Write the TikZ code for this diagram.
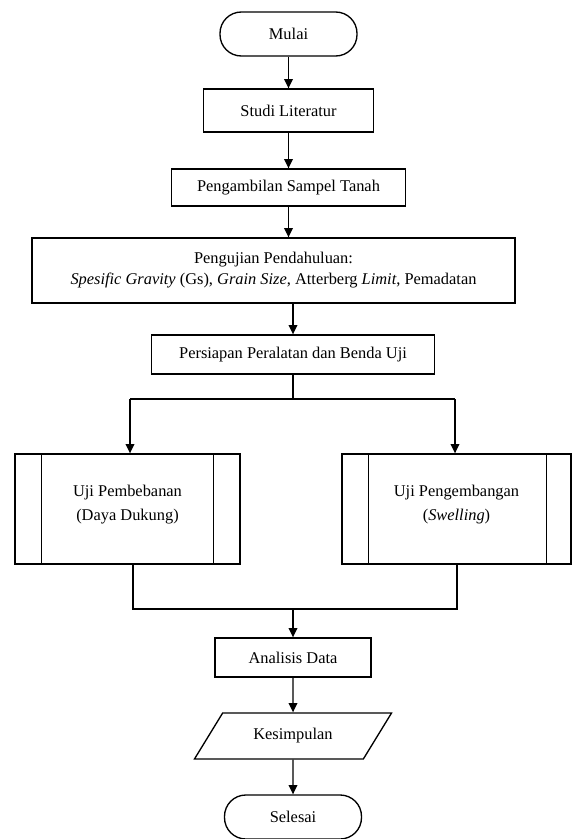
\documentclass[tikz,border=0pt]{standalone}
\usepackage{fontspec}
\setmainfont{Liberation Serif}
\usepackage{tikz}
\usetikzlibrary{shapes.geometric}
\usetikzlibrary{arrows.meta}

\begin{document}
\begin{tikzpicture}[x=0.75pt,y=-0.75pt,line width=1pt,
    font=\fontsize{12.3}{15.8}\selectfont,
    box/.style={draw,align=center,inner sep=2pt},
    term/.style={box,rounded corners=16pt,minimum width=102.75pt,minimum height=33pt},
    proc/.style={box,minimum height=82.5pt,font=\fontsize{12.3}{18}\selectfont},
    data/.style={box,trapezium,trapezium left angle=50,trapezium right angle=130,
      trapezium stretches=true,minimum width=148.5pt,minimum height=34.5pt},
    arr/.style={-{Triangle[length=7pt,width=6.5pt]}}]
  \useasboundingbox (0,0) rectangle (572,839);

  \node[term] (mulai) at (288.5,34) {Mulai};
  \node[box,minimum width=127.5pt,minimum height=32.25pt] (studi) at (288.5,110.5) {Studi Literatur};
  \node[box,minimum width=175.5pt,minimum height=27.75pt] (sampel) at (288.5,187.5) {Pengambilan Sampel Tanah};
  \node[box,minimum width=362.25pt,minimum height=48.75pt] (pendahuluan) at (273.5,270.5)
    {Pengujian Pendahuluan:\\\textit{Spesific Gravity} (Gs), \textit{Grain Size}, Atterberg \textit{Limit}, Pemadatan};
  \node[box,minimum width=212.25pt,minimum height=29.25pt] (persiapan) at (293,354.5) {Persiapan Peralatan dan Benda Uji};
  \node[proc,minimum width=168.75pt] (pembebanan) at (127.5,509) {Uji Pembebanan\\(Daya Dukung)\\[-8pt]};
  \node[proc,minimum width=171.75pt] (pengembangan) at (456.5,509) {Uji Pengembangan\\(\textit{Swelling})\\[-8pt]};
  \node[box,minimum width=117pt,minimum height=29.25pt] (analisis) at (293,657.5) {Analisis Data};
  \node[data] (kesimpulan) at (293,736) {Kesimpulan};
  \node[term] (selesai) at (293,817) {Selesai};

  \draw ([xshift=20.25pt]pembebanan.north west) -- ([xshift=20.25pt]pembebanan.south west)
    ([xshift=-20.25pt]pembebanan.north east) -- ([xshift=-20.25pt]pembebanan.south east);
  \draw ([xshift=20.25pt]pengembangan.north west) -- ([xshift=20.25pt]pengembangan.south west)
    ([xshift=-19pt]pengembangan.north east) -- ([xshift=-19pt]pengembangan.south east);

  \coordinate (bagi) at (293,399);
  \coordinate (bagiL) at (130,399);
  \coordinate (bagiR) at (455,399);
  \coordinate (gabung) at (293,609);
  \coordinate (gabungL) at (133,609);
  \coordinate (gabungR) at (457,609);

  \draw (persiapan) -- (bagi);
  \draw (bagiL) -- (bagiR);
  \draw (gabungL |- pembebanan.south) -- (gabungL) -- (gabungR) -- (gabungR |- pengembangan.south);

  \path[arr]
    (mulai) edge (studi)
    (studi) edge (sampel)
    (sampel) edge (sampel |- pendahuluan.north)
    (pendahuluan.south -| persiapan) edge (persiapan)
    (bagiL) edge (bagiL |- pembebanan.north)
    (bagiR) edge (bagiR |- pengembangan.north)
    (gabung) edge (analisis)
    (analisis) edge (kesimpulan)
    (kesimpulan) edge (selesai);
\end{tikzpicture}
\end{document}
